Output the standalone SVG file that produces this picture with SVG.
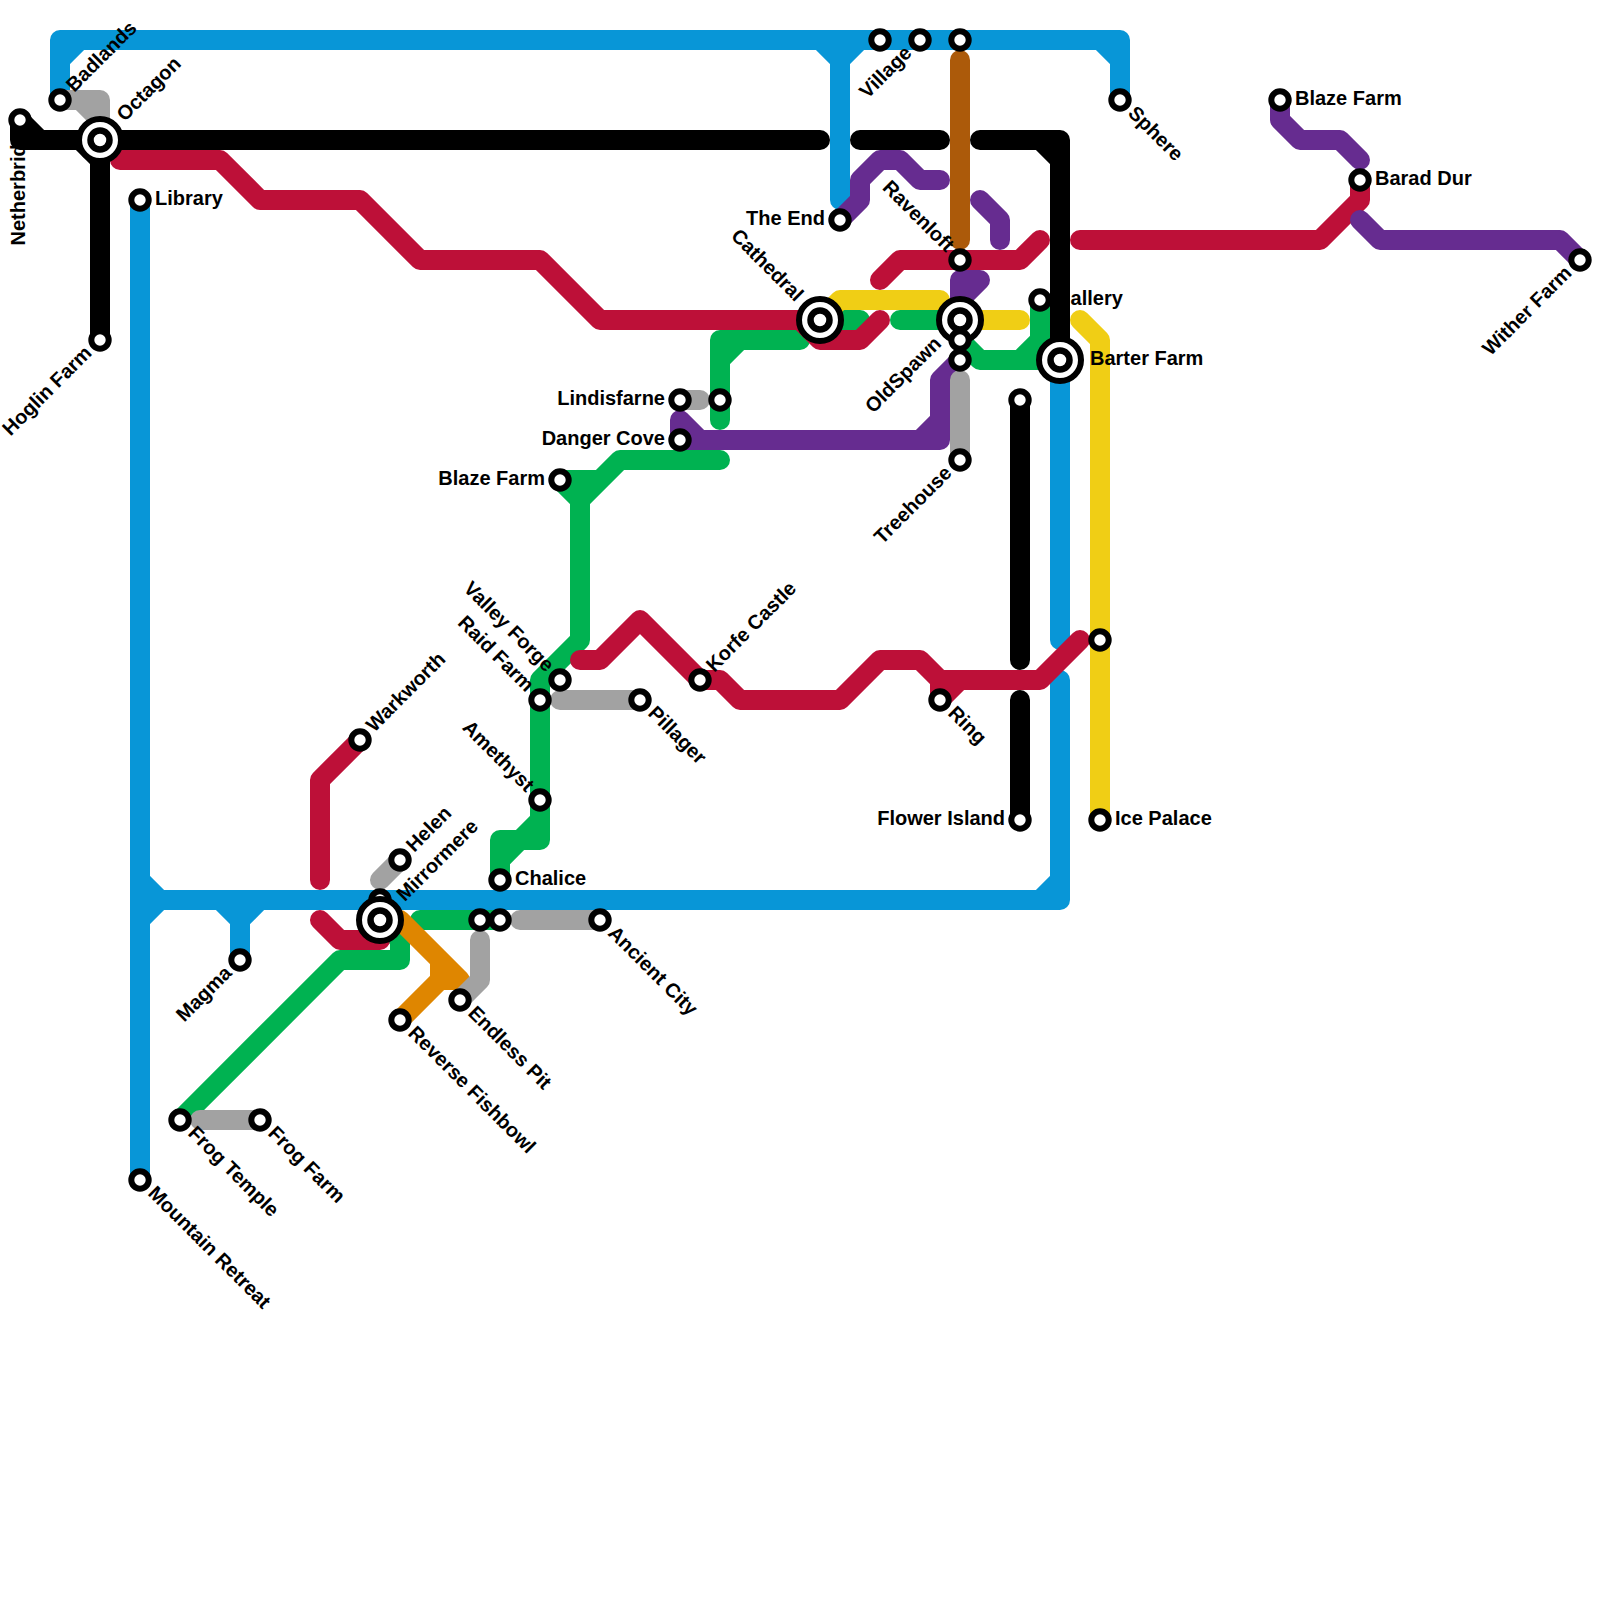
<svg xmlns="http://www.w3.org/2000/svg" width="1600" height="1600" viewBox="0 0 1600 1600">
<style>
.l{fill:none;stroke-width:20;stroke-linecap:round;stroke-linejoin:round}
.blue{stroke:#0896d7}.black{stroke:#000}.green{stroke:#00b251}.yellow{stroke:#f0ce15}.orange{stroke:#df8600}.brown{stroke:#ac5a0a}.red{stroke:#bd1038}.purple{stroke:#662c90}.gray{stroke:#a2a2a2}
.s{fill:#fff;stroke:#000;stroke-width:6}
.o{fill:#fff;stroke:#000;stroke-width:6}
.i{fill:#fff;stroke:#000;stroke-width:6.5}
text{font-family:"Liberation Sans",Arial,sans-serif;font-weight:700;font-size:20px;fill:#000}
.e{text-anchor:end}
</style>
<rect width="1600" height="1600" fill="#fff"/>
<g id="connectors">
<path class="l blue" d="M60,100V40H1120V100M60,60L80,40M1100,40L1120,60M840,200V60M820,40L840,60L860,40M140,200V1180M140,880L160,900H1060V680M140,920L160,900M220,900L240,920V960M240,920L260,900M1040,900L1060,880M1060,640V360"/>
<path class="l black" d="M20,120V140H820M20,120L40,140M80,140L100,160M100,140V340M860,140H940M980,140H1060V360M1040,140L1060,160M1020,400V660M1020,700V820"/>
<path class="l green" d="M720,420V340H800M720,360L740,340M820,320H860M900,320H960M960,340L980,360H1060M1020,360L1040,340V300M560,480H600M560,480L580,500M720,460H620L580,500V640L540,680V840H520L500,860M540,820L520,840H500V880M180,1120L340,960H400V940L380,920M420,920H500"/>
<path class="l yellow" d="M820,320L840,300H940M960,320H1020M1080,320L1100,340V820"/>
<path class="l orange" d="M400,920L460,980H440L400,1020M440,960V980"/>
<path class="l brown" d="M960,60V240"/>
<path class="l red" d="M120,160H220L260,200H360L420,260H540L600,320H800L820,340H860L880,320M880,280L900,260H1020L1040,240M1080,240H1320L1360,200V180M320,880V780L360,740M320,920L340,940H380M580,660H600L640,620L700,680H720L740,700H840L880,660H920L940,680H1040L1080,640M940,680V700L960,680"/>
<path class="l purple" d="M840,220L860,200V180L880,160H900L920,180H940M980,200L1000,220V240M680,440V420L700,440M680,440H940V380L960,360M920,440L940,420M960,320V280H980L960,300M1280,100V120L1300,140H1340L1360,160M1360,220L1380,240H1560L1580,260"/>
<path class="l gray" d="M60,100H100V140M80,100L100,120M400,860L380,880M520,920H600M480,940V980L460,1000M680,400H700M560,700H640M200,1120H260M960,380V460"/>
</g>
<g id="nodes">
<g id="netherbridge" transform="translate(20,120)"><text class="e" transform="rotate(-90)" x="-1" y="5">Netherbridge</text><circle class="s" r="8.7"/></g>
<g id="badlands" transform="translate(60,100)"><text transform="rotate(-45)" x="15" y="5">Badlands</text><circle class="s" r="8.7"/></g>
<g id="octagon" transform="translate(100,140)"><text transform="rotate(-45)" x="30" y="5">Octagon</text><circle class="o" r="21"/><circle class="i" r="9.5"/></g>
<g id="library" transform="translate(140,200)"><text x="15" y="5">Library</text><circle class="s" r="8.7"/></g>
<g id="hoglin-farm" transform="translate(100,340)"><text class="e" transform="rotate(-45)" x="-15" y="5">Hoglin Farm</text><circle class="s" r="8.7"/></g>
<g id="warkworth" transform="translate(360,740)"><text transform="rotate(-45)" x="15" y="5">Warkworth</text><circle class="s" r="8.7"/></g>
<g id="helen" transform="translate(400,860)"><text transform="rotate(-45)" x="15" y="5">Helen</text><circle class="s" r="8.7"/></g>
<g id="mirrormere-upper" transform="translate(380,900)"><circle class="s" r="8.7"/></g>
<g id="mirrormere" transform="translate(380,920)"><text transform="rotate(-45)" x="30" y="5">Mirrormere</text><circle class="o" r="21"/><circle class="i" r="9.5"/></g>
<g id="chalice" transform="translate(500,880)"><text x="15" y="5">Chalice</text><circle class="s" r="8.7"/></g>
<g id="junction-480" transform="translate(480,920)"><circle class="s" r="8.7"/></g>
<g id="junction-500" transform="translate(500,920)"><circle class="s" r="8.7"/></g>
<g id="ancient-city" transform="translate(600,920)"><text transform="rotate(45)" x="15" y="5">Ancient City</text><circle class="s" r="8.7"/></g>
<g id="endless-pit" transform="translate(460,1000)"><text transform="rotate(45)" x="15" y="5">Endless Pit</text><circle class="s" r="8.7"/></g>
<g id="reverse-fishbowl" transform="translate(400,1020)"><text transform="rotate(45)" x="15" y="5">Reverse Fishbowl</text><circle class="s" r="8.7"/></g>
<g id="frog-temple" transform="translate(180,1120)"><text transform="rotate(45)" x="15" y="5">Frog Temple</text><circle class="s" r="8.7"/></g>
<g id="frog-farm" transform="translate(260,1120)"><text transform="rotate(45)" x="15" y="5">Frog Farm</text><circle class="s" r="8.7"/></g>
<g id="mountain-retreat" transform="translate(140,1180)"><text transform="rotate(45)" x="15" y="5">Mountain Retreat</text><circle class="s" r="8.7"/></g>
<g id="magma" transform="translate(240,960)"><text class="e" transform="rotate(-45)" x="-15" y="5">Magma</text><circle class="s" r="8.7"/></g>
<g id="blaze-farm-west" transform="translate(560,480)"><text class="e" x="-15" y="5">Blaze Farm</text><circle class="s" r="8.7"/></g>
<g id="lindisfarne" transform="translate(680,400)"><text class="e" x="-15" y="5">Lindisfarne</text><circle class="s" r="8.7"/></g>
<g id="junction-720" transform="translate(720,400)"><circle class="s" r="8.7"/></g>
<g id="danger-cove" transform="translate(680,440)"><text class="e" x="-15" y="5">Danger Cove</text><circle class="s" r="8.7"/></g>
<g id="valley-forge" transform="translate(560,680)"><text class="e" transform="rotate(45)" x="-15" y="5">Valley Forge</text><circle class="s" r="8.7"/></g>
<g id="raid-farm" transform="translate(540,700)"><text class="e" transform="rotate(45)" x="-15" y="5">Raid Farm</text><circle class="s" r="8.7"/></g>
<g id="pillager" transform="translate(640,700)"><text transform="rotate(45)" x="15" y="5">Pillager</text><circle class="s" r="8.7"/></g>
<g id="amethyst" transform="translate(540,800)"><text class="e" transform="rotate(45)" x="-15" y="5">Amethyst</text><circle class="s" r="8.7"/></g>
<g id="korfe-castle" transform="translate(700,680)"><text transform="rotate(-45)" x="15" y="5">Korfe Castle</text><circle class="s" r="8.7"/></g>
<g id="ring" transform="translate(940,700)"><text transform="rotate(45)" x="15" y="5">Ring</text><circle class="s" r="8.7"/></g>
<g id="junction-1020" transform="translate(1020,400)"><circle class="s" r="8.7"/></g>
<g id="flower-island" transform="translate(1020,820)"><text class="e" x="-15" y="5">Flower Island</text><circle class="s" r="8.7"/></g>
<g id="junction-1100" transform="translate(1100,640)"><circle class="s" r="8.7"/></g>
<g id="ice-palace" transform="translate(1100,820)"><text x="15" y="5">Ice Palace</text><circle class="s" r="8.7"/></g>
<g id="gallery" transform="translate(1040,300)"><text x="15" y="5">Gallery</text><circle class="s" r="8.7"/></g>
<g id="barter-farm" transform="translate(1060,360)"><text x="30" y="5">Barter Farm</text><circle class="o" r="21"/><circle class="i" r="9.5"/></g>
<g id="sphere" transform="translate(1120,100)"><text transform="rotate(45)" x="15" y="5">Sphere</text><circle class="s" r="8.7"/></g>
<g id="blaze-farm-east" transform="translate(1280,100)"><text x="15" y="5">Blaze Farm</text><circle class="s" r="8.7"/></g>
<g id="barad-dur" transform="translate(1360,180)"><text x="15" y="5">Barad Dur</text><circle class="s" r="8.7"/></g>
<g id="wither-farm" transform="translate(1580,260)"><text class="e" transform="rotate(-45)" x="-15" y="5">Wither Farm</text><circle class="s" r="8.7"/></g>
<g id="cathedral" transform="translate(820,320)"><text class="e" transform="rotate(45)" x="-30" y="5">Cathedral</text><circle class="o" r="21"/><circle class="i" r="9.5"/></g>
<g id="the-end" transform="translate(840,220)"><text class="e" x="-15" y="5">The End</text><circle class="s" r="8.7"/></g>
<g id="top-880" transform="translate(880,40)"><circle class="s" r="8.7"/></g>
<g id="village" transform="translate(920,40)"><text class="e" transform="rotate(-45)" x="-15" y="5">Village</text><circle class="s" r="8.7"/></g>
<g id="top-960" transform="translate(960,40)"><circle class="s" r="8.7"/></g>
<g id="ravenloft" transform="translate(960,260)"><text class="e" transform="rotate(45)" x="-15" y="5">Ravenloft</text><circle class="s" r="8.7"/></g>
<g id="oldspawn" transform="translate(960,320)"><text class="e" transform="rotate(-45)" x="-30" y="5">OldSpawn</text><circle class="o" r="21"/><circle class="i" r="9.5"/></g>
<g id="oldspawn-2" transform="translate(960,340)"><circle class="s" r="8.7"/></g>
<g id="oldspawn-3" transform="translate(960,360)"><circle class="s" r="8.7"/></g>
<g id="treehouse" transform="translate(960,460)"><text class="e" transform="rotate(-45)" x="-15" y="5">Treehouse</text><circle class="s" r="8.7"/></g>
</g>
</svg>
